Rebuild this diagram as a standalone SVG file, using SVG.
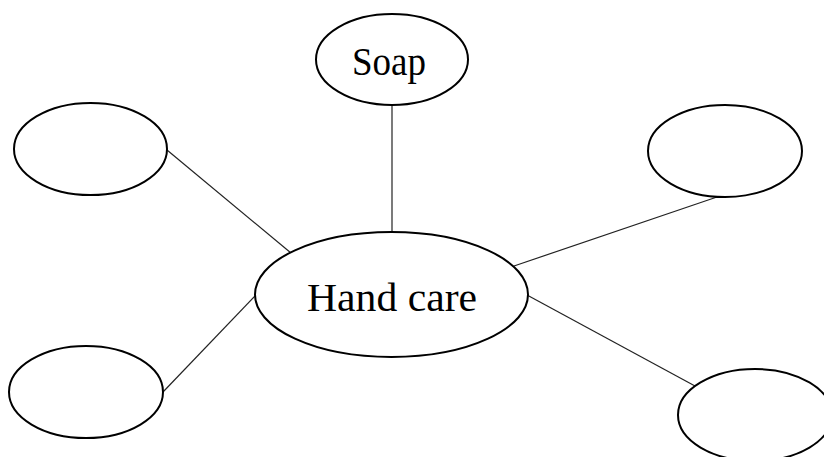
<svg xmlns="http://www.w3.org/2000/svg" width="824" height="457" viewBox="0 0 824 457">
<style>
.node{fill:#fff;stroke:#000;stroke-width:2}
.edge{stroke:#222;stroke-width:1.2;fill:none}
.lbl{font-family:"Liberation Serif","DejaVu Serif",serif;font-size:41px;fill:#000}
</style>
<rect width="824" height="457" fill="#fff"/>
<g id="connectors">
<line class="edge" x1="392" y1="105" x2="392" y2="232"/>
<line class="edge" x1="167" y1="150" x2="291" y2="253"/>
<line class="edge" x1="717" y1="197" x2="514" y2="266"/>
<line class="edge" x1="163" y1="392" x2="256" y2="295"/>
<line class="edge" x1="527" y1="295" x2="695" y2="386"/>
</g>
<g id="hand-care">
<ellipse class="node" cx="391.5" cy="294.5" rx="136.5" ry="62.5"/>
<text class="lbl" x="307" y="311" textLength="170" lengthAdjust="spacingAndGlyphs">Hand care</text>
</g>
<g id="soap">
<ellipse class="node" cx="392" cy="59.5" rx="76" ry="45.5"/>
<text class="lbl" x="352" y="75" textLength="74" lengthAdjust="spacingAndGlyphs">Soap</text>
</g>
<g id="top-left">
<ellipse class="node" cx="90.5" cy="149" rx="76.5" ry="46"/>
</g>
<g id="top-right">
<ellipse class="node" cx="725" cy="151" rx="77" ry="46"/>
</g>
<g id="bottom-left">
<ellipse class="node" cx="86" cy="392" rx="77" ry="46"/>
</g>
<g id="bottom-right">
<ellipse class="node" cx="755" cy="415" rx="77" ry="46"/>
</g>
</svg>
